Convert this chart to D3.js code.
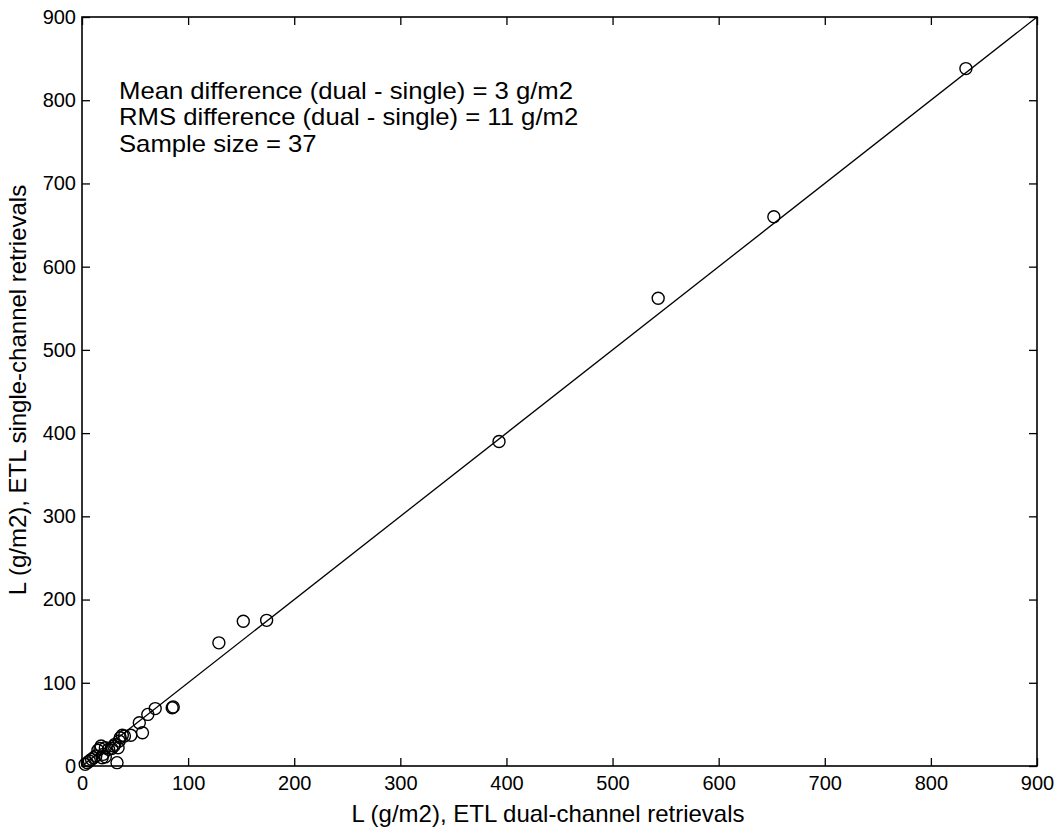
<!DOCTYPE html>
<html>
<head>
<meta charset="utf-8">
<script src="https://cdn.jsdelivr.net/npm/d3@7"></script>
<style>
  html, body { margin: 0; padding: 0; background: #fff; }
  svg { display: block; font-family: "Liberation Sans", Arial, sans-serif; }
</style>
</head>
<body>
<svg id="chart" width="1062" height="830"></svg>
<script>
// Liquid water path: dual-channel (x) vs single-channel (y) retrievals, g/m2
const dualChannel = [
  833, 652, 543, 393, 174, 152, 129, 85, 86, 69,
  62, 54, 57, 46, 38, 36, 35, 34, 33, 30,
  28, 25, 22, 18, 17, 15, 20, 22, 19, 13,
  11, 9, 7, 5, 3, 40, 31
];
const singleChannel = [
  838, 660, 562, 390, 175, 174, 148, 70, 71, 69,
  62, 52, 40, 37, 37, 34, 30, 22, 4, 24,
  21, 20, 22, 24, 21, 19, 14, 11, 10, 12,
  10, 8, 6, 4, 2, 36, 26
];
const xTicks = [0, 100, 200, 300, 400, 500, 600, 700, 800, 900];
const yTicks = [0, 100, 200, 300, 400, 500, 600, 700, 800, 900];
const statsLines = [
  "Mean difference (dual - single) = 3 g/m2",
  "RMS difference (dual - single) = 11 g/m2",
  "Sample size = 37"
];
const xTitle = "L (g/m2), ETL dual-channel retrievals";
const yTitle = "L (g/m2), ETL single-channel retrievals";

const svg = d3.select("#chart");
const plotLeft = 82, plotRight = 1037, plotTop = 17, plotBottom = 766;

const x = d3.scaleLinear().domain([0, 900]).range([plotLeft, plotRight]);
const y = d3.scaleLinear().domain([0, 900]).range([plotBottom, plotTop]);

// Axes with inward ticks on all four sides
const axisStyle = g => {
  g.select(".domain").remove();
  g.selectAll(".tick line").attr("stroke", "#000").attr("stroke-width", 1.3);
  g.selectAll(".tick text").attr("fill", "#000").attr("font-size", 20)
    .attr("font-family", "Liberation Sans, Arial, sans-serif");
};

svg.append("g").attr("transform", `translate(0,${plotBottom})`)
  .call(d3.axisBottom(x).tickValues(xTicks).tickSizeInner(-8).tickSizeOuter(0).tickPadding(10))
  .call(axisStyle);
svg.append("g").attr("transform", `translate(0,${plotTop})`)
  .call(d3.axisTop(x).tickValues(xTicks).tickSizeInner(-8).tickSizeOuter(0).tickFormat(""))
  .call(axisStyle);
svg.append("g").attr("transform", `translate(${plotLeft},0)`)
  .call(d3.axisLeft(y).tickValues(yTicks).tickSizeInner(-8).tickSizeOuter(0).tickPadding(6))
  .call(axisStyle);
svg.append("g").attr("transform", `translate(${plotRight},0)`)
  .call(d3.axisRight(y).tickValues(yTicks).tickSizeInner(-8).tickSizeOuter(0).tickFormat(""))
  .call(axisStyle);

// Frame
svg.append("rect")
  .attr("x", plotLeft).attr("y", plotTop)
  .attr("width", plotRight - plotLeft).attr("height", plotBottom - plotTop)
  .attr("fill", "none").attr("stroke", "#000").attr("stroke-width", 1.6);

// 1:1 reference line
svg.append("line")
  .attr("x1", x(0)).attr("y1", y(0))
  .attr("x2", x(900)).attr("y2", y(900))
  .attr("stroke", "#000").attr("stroke-width", 1.3);

// Retrieval pairs
svg.append("g").selectAll("circle")
  .data(d3.zip(dualChannel, singleChannel))
  .join("circle")
  .attr("cx", d => x(d[0]))
  .attr("cy", d => y(d[1]))
  .attr("r", 6)
  .attr("fill", "none")
  .attr("stroke", "#000")
  .attr("stroke-width", 1.4);

// Statistics block
const stats = svg.append("g").attr("transform", "translate(119,0) scale(1.07,1)");
stats.selectAll("text")
  .data(statsLines)
  .join("text")
  .attr("x", 0)
  .attr("y", (d, i) => 99 + i * 26.5)
  .attr("font-size", 24)
  .attr("fill", "#000")
  .text(d => d);

// Axis titles
svg.append("text")
  .attr("x", 548).attr("y", 822)
  .attr("text-anchor", "middle")
  .attr("font-size", 24)
  .attr("fill", "#000")
  .text(xTitle);

svg.append("text")
  .attr("transform", "translate(26,390) rotate(-90)")
  .attr("text-anchor", "middle")
  .attr("font-size", 24)
  .attr("fill", "#000")
  .text(yTitle);
</script>
</body>
</html>
